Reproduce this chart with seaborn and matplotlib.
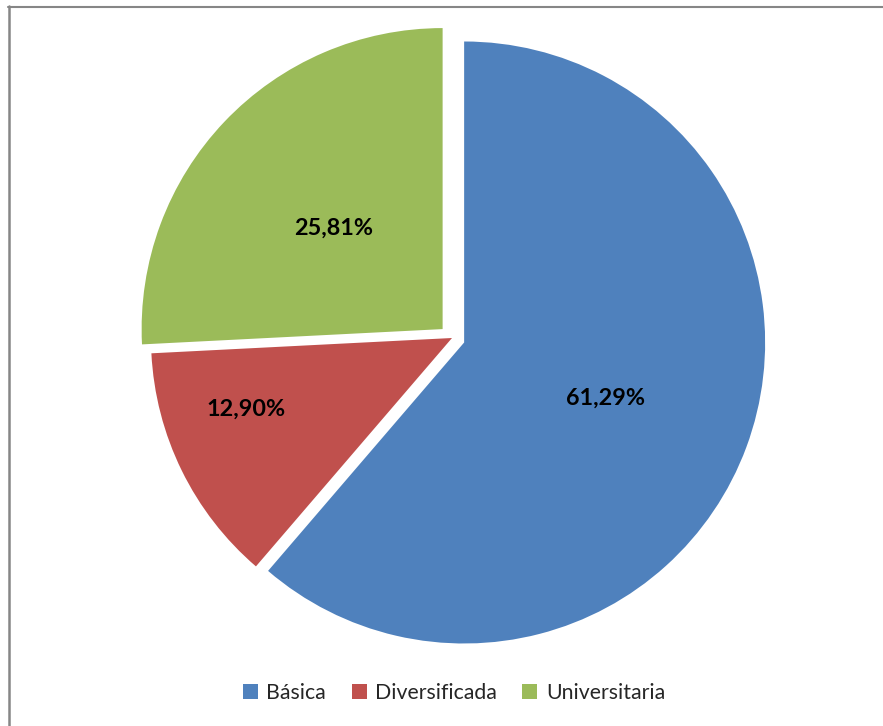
import numpy as np
import matplotlib
matplotlib.use("Agg")
import matplotlib.pyplot as plt
from matplotlib.patches import Patch
from matplotlib.lines import Line2D
import seaborn as sns

# Share of each education level
categories = ["Básica", "Diversificada", "Universitaria"]
shares = [61.29, 12.90, 25.81]
colors = ["#4F81BD", "#C0504D", "#9BBB59"]
explode = [0.043, 0.0, 0.043]

sns.set_theme(style="white")
plt.rcParams["font.family"] = ["Lato", "DejaVu Sans"]
palette = sns.color_palette(colors)

W, H = 883, 726
fig = plt.figure(figsize=(W / 100, H / 100), dpi=100)

# Pie axes: centre and radius given in pixels
cx, cy, r = 452, 338, 301
ax = fig.add_axes([(cx - r) / W, (H - cy - r) / H, 2 * r / W, 2 * r / H])

wedges, texts, autotexts = ax.pie(
    shares,
    colors=palette,
    explode=explode,
    startangle=90,
    counterclock=False,
    radius=1,
    autopct=lambda p: f"{p:.2f}%".replace(".", ","),
    pctdistance=0.5,
    wedgeprops=dict(linewidth=0),
    textprops=dict(fontsize=16.8, fontweight="bold", color="black"),
)
ax.set_xlim(-1, 1)
ax.set_ylim(-1, 1)
ax.set_aspect("equal")
ax.axis("off")
for w in wedges:
    w.set_clip_on(False)

# Nudge the large labels down slightly
for t in (autotexts[0], autotexts[2]):
    x, y = t.get_position()
    t.set_position((x, y - 0.01))

# Move the small slice's label further out, a little toward the horizontal
w = wedges[1]
ang = np.deg2rad((w.theta1 + w.theta2) / 2 - 7)
autotexts[1].set_position((0.725 * np.cos(ang), 0.725 * np.sin(ang)))

# Legend along the bottom
handles = [Patch(facecolor=c, edgecolor="none") for c in palette]
fig.legend(
    handles, categories,
    loc="center", bbox_to_anchor=(454 / W, 1 - 693 / H),
    ncol=3, frameon=False, fontsize=15.3,
    handlelength=0.7, handleheight=0.7, handletextpad=0.4,
    columnspacing=1.2,
)

# Chart-area frame (top and left edges visible)
fig.add_artist(Line2D([9 / W, 9 / W], [0, 1 - 6 / H], transform=fig.transFigure,
                      color="#868686", linewidth=1.8))
fig.add_artist(Line2D([8 / W, 1], [1 - 6.5 / H, 1 - 6.5 / H], transform=fig.transFigure,
                      color="#868686", linewidth=1.5))

fig.savefig("out.png", dpi=100, facecolor="white")
